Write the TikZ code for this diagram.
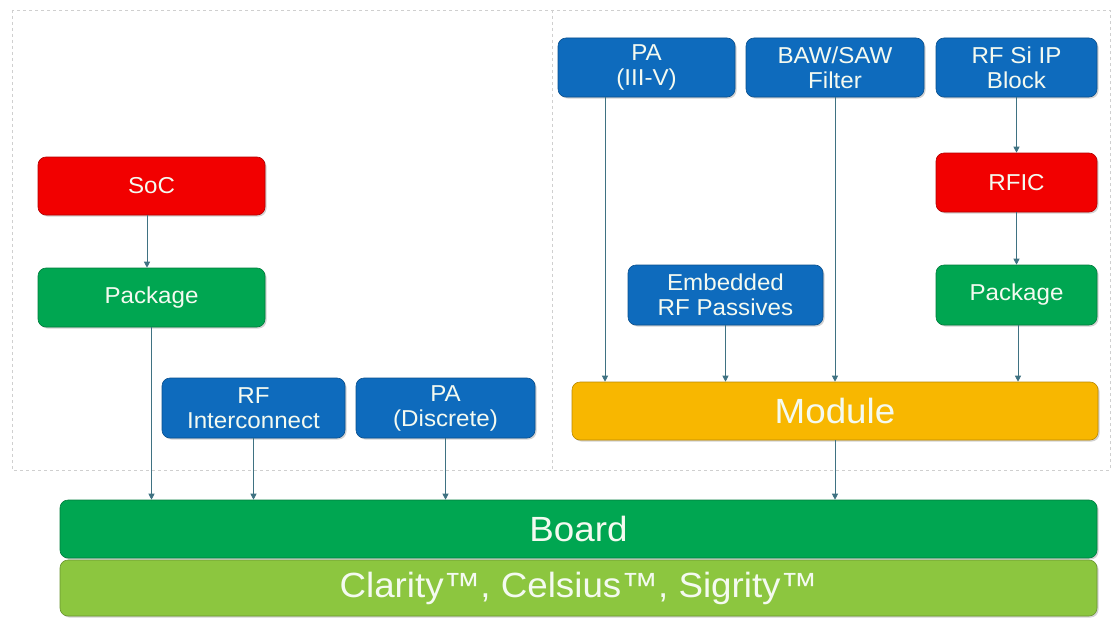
\documentclass[tikz,border=0pt]{standalone}
\usepackage{fontspec}
\setmainfont[FakeStretch=1.05]{Liberation Sans}
\usetikzlibrary{shadows,arrows.meta}
\definecolor{cRed}{HTML}{F20000}
\definecolor{cGreen}{HTML}{00A651}
\definecolor{cBlue}{HTML}{0E6BBD}
\definecolor{cYellow}{HTML}{F8B700}
\definecolor{cLight}{HTML}{8CC63F}
\definecolor{cLine}{HTML}{3F7282}
\definecolor{cFrame}{HTML}{CFCFCF}
\definecolor{cText}{HTML}{F4FAF0}
\tikzset{
  blk/.style={rounded corners=8pt, draw=#1!75!black, line width=0.6pt, fill=#1,
    text=cText, align=center, font=\fontsize{23}{25}\selectfont, inner sep=0pt,
    drop shadow={opacity=0.35, shadow xshift=1.5pt, shadow yshift=-1.5pt}},
  arr/.style={draw=cLine, line width=0.9pt, -{Triangle[length=6pt,width=6pt]}},
  frame/.style={draw=cFrame, dashed, line width=0.7pt}
}
\begin{document}
\begin{tikzpicture}[x=1pt,y=-1pt]
\useasboundingbox (0,0) rectangle (1113,618);
\fill[white] (0,0) rectangle (1113,618);
% frame
\draw[frame] (12,10) rectangle (1110,470);
\draw[frame] (552,10) -- (552,470);
% left side
\node[blk=cRed, minimum width=227pt, minimum height=58pt] (soc) at (151.5,186) {SoC};
\node[blk=cGreen, minimum width=227pt, minimum height=59pt] (pkgL) at (151.5,297.5) {Package};
\node[blk=cBlue, minimum width=183pt, minimum height=60pt] (rfi) at (253.5,408) {RF\\Interconnect};
\node[blk=cBlue, minimum width=179pt, minimum height=60pt] (pad) at (445.5,408) {PA\\(Discrete)};
% right side
\node[blk=cBlue, minimum width=177pt, minimum height=59pt] (pa3) at (646.5,67.5) {PA\\(III-V)};
\node[blk=cBlue, minimum width=178pt, minimum height=59pt] (baw) at (835,67.5) {BAW/SAW\\Filter};
\node[blk=cBlue, minimum width=161pt, minimum height=59pt] (rfsi) at (1016.5,67.5) {RF Si IP\\Block};
\node[blk=cRed, minimum width=161pt, minimum height=59pt] (rfic) at (1016.5,182.5) {RFIC};
\node[blk=cGreen, minimum width=161pt, minimum height=60pt] (pkgR) at (1016.5,295) {Package};
\node[blk=cBlue, minimum width=195pt, minimum height=60pt] (emb) at (725.5,295) {Embedded\\RF Passives};
\node[blk=cYellow, minimum width=526pt, minimum height=58pt, font=\fontsize{35}{38}\selectfont] (mod) at (835,411) {Module};
% bottom
\node[blk=cLight, minimum width=1037pt, minimum height=56pt, font=\fontsize{35}{38}\selectfont] (tools) at (578.5,588) {Clarity™, Celsius™, Sigrity™};
\node[blk=cGreen, minimum width=1037pt, minimum height=58pt, font=\fontsize{35}{38}\selectfont] (board) at (578.5,529) {Board};
% connectors
\draw[arr] ([xshift=-4.5pt]soc.south) -- ([xshift=-4.5pt]soc.south |- pkgL.north);
\draw[arr] (pkgL.south) -- (pkgL.south |- board.north);
\draw[arr] (rfi.south) -- (rfi.south |- board.north);
\draw[arr] (pad.south) -- (pad.south |- board.north);
\draw[arr] ([xshift=-41.5pt]pa3.south) -- ([xshift=-41.5pt]pa3.south |- mod.north);
\draw[arr] (emb.south) -- (emb.south |- mod.north);
\draw[arr] (baw.south) -- (baw.south |- mod.north);
\draw[arr] (rfsi.south) -- (rfic.north);
\draw[arr] (rfic.south) -- (pkgR.north);
\draw[arr] ([xshift=1.5pt]pkgR.south) -- ([xshift=1.5pt]pkgR.south |- mod.north);
\draw[arr] (mod.south) -- (mod.south |- board.north);
\end{tikzpicture}
\end{document}
